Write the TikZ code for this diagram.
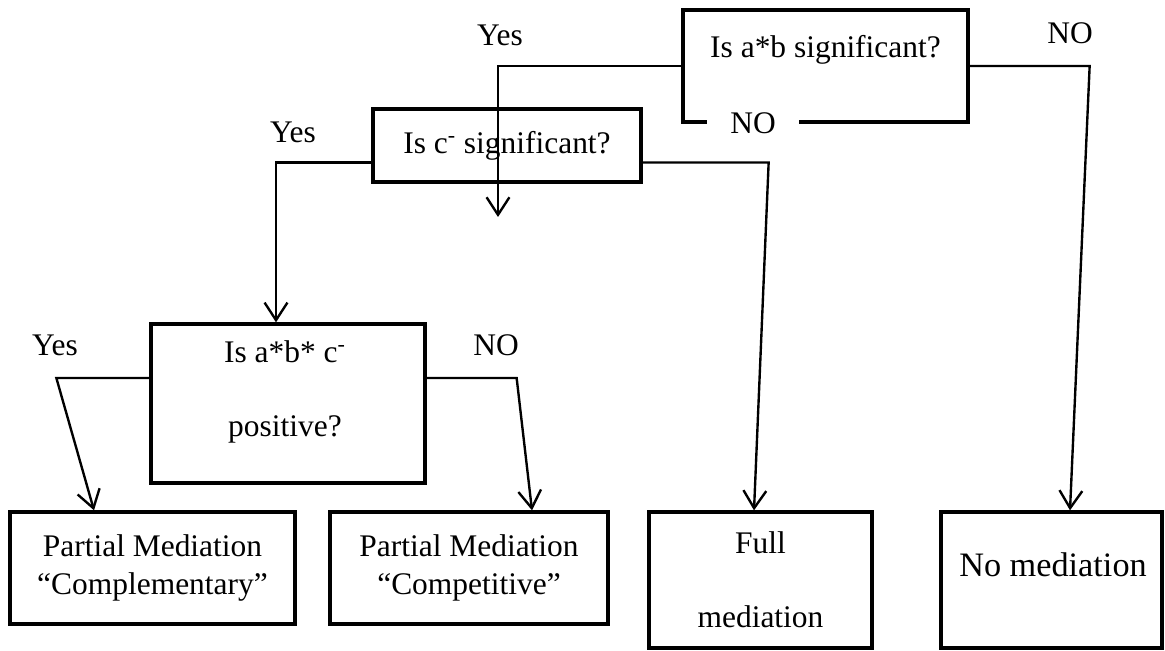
\documentclass[tikz,border=0pt]{standalone}
\usepackage{fontspec}
\setmainfont{Liberation Serif}
\usepackage{tikz}
\usetikzlibrary{arrows.meta,positioning}
\newcommand{\fsz}{\fontsize{17.9}{21.6}\selectfont}
\tikzset{
  caja/.style={draw=black, line width=1.9pt, align=center, font=\fsz, inner sep=0pt},
  txt/.style={align=center, font=\fsz, inner sep=0pt},
  lbl/.style={font=\fsz, inner sep=0pt},
  flecha/.style={-{Straight Barb[length=10pt,width=13pt]}, line width=1.35pt},
}

\begin{document}
\begin{tikzpicture}[x=0.02cm, y=-0.02cm]
\useasboundingbox (0,0) rectangle (1165,651);

\node[caja, minimum width=5.7cm, minimum height=2.24cm] (ab) at (825.5,66) {};
\node[txt] (abt) at (825.5,50) {Is a*b significant?};
\node[caja, minimum width=5.36cm, minimum height=1.46cm] (cs) at (507,145.5) {Is c\textsuperscript{-} significant?};
\node[caja, minimum width=5.48cm, minimum height=3.18cm] (pos) at (288,403.5) {};
\node[txt] (post) at (285,392) {Is a*b* c\textsuperscript{-}\\[20.5pt]positive?};

\node[caja, minimum width=5.7cm, minimum height=2.24cm] (comp) at (152.5,568) {Partial Mediation\\``Complementary''};
\node[caja, minimum width=5.56cm, minimum height=2.24cm] (compt) at (469,568) {Partial Mediation\\``Competitive''};
\node[caja, minimum width=4.46cm, minimum height=2.72cm] (full) at (760.5,580) {Full\\[20.5pt]mediation};
\node[caja, minimum width=4.42cm, minimum height=2.72cm] (nomed) at (1051.5,580) {};
\node[txt, font=\fontsize{19.5}{23}\selectfont] (nomedt) at (1053,565) {No mediation};

\coordinate (abyes) at (498,217);
\draw[flecha] (ab.west) -| (abyes);
\draw[flecha] (ab.east) -- ++(120,0) -- ([xshift=0.37cm]nomed.north);
\draw[flecha] ([yshift=-0.34cm]cs.west) -| ([xshift=-0.24cm]pos.north);
\draw[flecha] ([yshift=-0.34cm]cs.east) -- ++(126,0) -- ([xshift=-0.13cm]full.north);
\draw[flecha] ([yshift=0.51cm]pos.west) -- ++(-93,0) -- ([xshift=-1.17cm]comp.north);
\draw[flecha] ([yshift=0.51cm]pos.east) -- ++(90,0) -- ([xshift=1.26cm]compt.north);

\node[lbl] (yes1) at (500,35) {Yes};
\node[lbl] (no1) at (1070,33) {NO};
\node[lbl, fill=white, inner xsep=13pt, inner ysep=2pt] (no2) at (753,123) {NO};
\node[lbl] (yes2) at (293,132) {Yes};
\node[lbl] (yes3) at (55,345) {Yes};
\node[lbl] (no3) at (496,345) {NO};
\end{tikzpicture}
\end{document}
